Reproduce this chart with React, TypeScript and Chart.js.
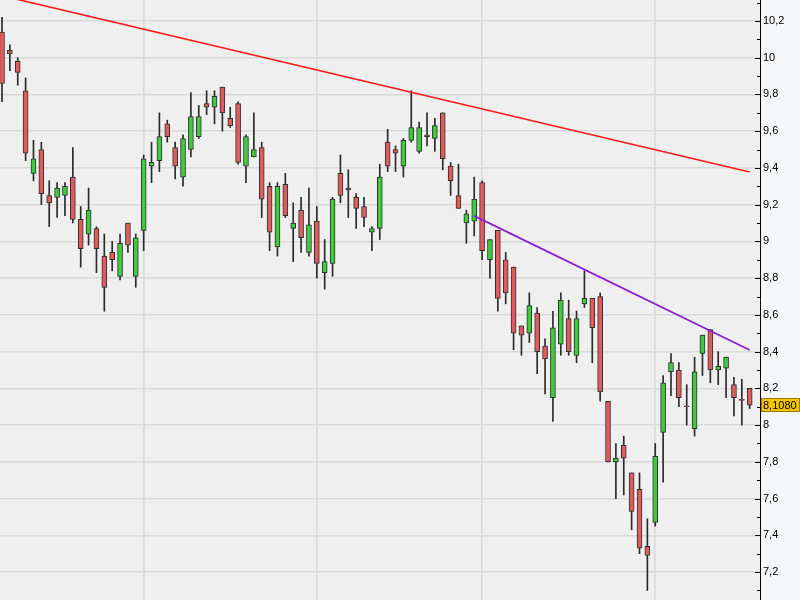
import React, { useEffect, useRef } from 'react';
import { Chart, registerables } from 'chart.js';

Chart.register(...registerables);

// Daily candles (96 sessions)
const opens = [
  10.14, 10.04, 9.98, 9.82, 9.37, 9.5, 9.25, 9.24, 9.25, 9.35,
  9.12, 9.04, 9.07, 8.92, 8.94, 8.81, 9.1, 8.81, 9.06, 9.41,
  9.44, 9.64, 9.51, 9.35, 9.5, 9.57, 9.75, 9.73, 9.84, 9.67,
  9.75, 9.41, 9.46, 9.51, 9.3, 8.97, 9.31, 9.07, 9.17, 8.94,
  9.11, 8.83, 8.88, 9.37, 9.29, 9.24, 9.19, 9.05, 9.07, 9.54,
  9.5, 9.41, 9.55, 9.49, 9.58, 9.56, 9.7, 9.41, 9.25, 9.1,
  9.11, 9.32, 8.9, 9.06, 8.9, 8.86, 8.54, 8.5, 8.61, 8.43,
  8.15, 8.44, 8.58, 8.38, 8.66, 8.69, 8.7, 8.13, 7.8, 7.89,
  7.74, 7.65, 7.34, 7.47, 7.96, 8.29, 8.3, 8.105, 7.98, 8.39,
  8.52, 8.3, 8.31, 8.22, 8.14, 8.2,
];
const highs = [
  10.22, 10.07, 10.0, 9.89, 9.55, 9.54, 9.33, 9.32, 9.32, 9.51,
  9.19, 9.29, 9.08, 9.04, 9.0, 9.04, 9.1, 9.04, 9.47, 9.54,
  9.7, 9.66, 9.54, 9.58, 9.81, 9.74, 9.82, 9.82, 9.84, 9.73,
  9.76, 9.58, 9.7, 9.54, 9.32, 9.32, 9.37, 9.21, 9.24, 9.29,
  9.19, 9.01, 9.24, 9.47, 9.39, 9.26, 9.24, 9.08, 9.42, 9.61,
  9.52, 9.56, 9.82, 9.65, 9.7, 9.67, 9.7, 9.43, 9.42, 9.17,
  9.35, 9.33, 9.01, 9.06, 8.94, 8.86, 8.54, 8.72, 8.64, 8.47,
  8.62, 8.72, 8.68, 8.62, 8.84, 8.69, 8.72, 8.13, 7.9, 7.94,
  7.74, 7.74, 7.49, 7.9, 8.27, 8.39, 8.34, 8.22, 8.37, 8.49,
  8.52, 8.4, 8.37, 8.26, 8.25, 8.2,
];
const lows = [
  9.76, 9.93, 9.85, 9.44, 9.33, 9.2, 9.08, 9.13, 9.14, 9.1,
  8.86, 8.98, 8.83, 8.62, 8.84, 8.79, 8.94, 8.75, 8.95, 9.32,
  9.38, 9.54, 9.34, 9.3, 9.46, 9.56, 9.69, 9.64, 9.6, 9.62,
  9.42, 9.32, 9.46, 9.13, 8.95, 8.92, 9.13, 8.89, 8.94, 8.92,
  8.8, 8.74, 8.81, 9.21, 9.13, 9.07, 9.08, 8.95, 9.01, 9.38,
  9.38, 9.35, 9.54, 9.48, 9.52, 9.49, 9.39, 9.25, 9.18, 8.99,
  9.03, 8.9, 8.8, 8.62, 8.66, 8.41, 8.38, 8.45, 8.28, 8.17,
  8.02, 8.38, 8.38, 8.34, 8.64, 8.34, 8.13, 7.8, 7.6, 7.62,
  7.43, 7.3, 7.1, 7.45, 7.69, 8.16, 8.1, 8.0, 7.94, 8.27,
  8.23, 8.22, 8.15, 8.05, 8.0, 8.09,
];
const closes = [
  9.86, 10.02, 9.92, 9.48, 9.45, 9.26, 9.21, 9.29, 9.3, 9.12,
  8.96, 9.17, 8.96, 8.75, 8.9, 8.99, 8.98, 9.02, 9.45, 9.43,
  9.57, 9.57, 9.41, 9.56, 9.68, 9.68, 9.73, 9.79, 9.7, 9.63,
  9.43, 9.57, 9.5, 9.23, 9.05, 9.3, 9.14, 9.1, 9.02, 9.09,
  8.88, 8.89, 9.23, 9.25, 9.28, 9.18, 9.13, 9.07, 9.35, 9.41,
  9.48, 9.55, 9.62, 9.62, 9.57, 9.63, 9.45, 9.33, 9.18, 9.15,
  9.23, 8.95, 9.01, 8.69, 8.72, 8.5, 8.49, 8.65, 8.4, 8.36,
  8.53, 8.68, 8.4, 8.58, 8.69, 8.53, 8.18, 7.8, 7.82, 7.82,
  7.53, 7.33, 7.29, 7.83, 8.23, 8.34, 8.15, 8.1, 8.29, 8.49,
  8.3, 8.32, 8.37, 8.15, 8.135, 8.108,
];

// Month separators (candle index)
const monthGridIdx = [18, 40, 61, 83];

// Trend lines (candle index, price)
const resistanceLine = [
  { x: 0, y: 10.337 },
  { x: 95, y: 9.378 },
];
const downTrendLine = [
  { x: 60, y: 9.139 },
  { x: 95, y: 8.409 },
];

// Price axis
const yMajorTicks = [7.2, 7.4, 7.6, 7.8, 8, 8.2, 8.4, 8.6, 8.8, 9, 9.2, 9.4, 9.6, 9.8, 10, 10.2];
const lastPrice = 8.108;

const Y_MIN = 7.048;
const Y_MAX = 10.314;
const X_MIN = -0.254;
const X_MAX = 96.31;

const isMajor = (v: number) => Math.abs(v * 5 - Math.round(v * 5)) < 1e-6;
const fmt = (v: number) => String(Math.round(v * 10) / 10).replace('.', ',');

const allYTicks: number[] = [];
for (let k = 71; k <= 103; k++) allYTicks.push(k / 10);

const decorPlugin = {
  id: 'decor',
  beforeDraw(chart: any) {
    const { ctx, chartArea: a } = chart;
    ctx.save();
    ctx.fillStyle = '#efefef';
    ctx.fillRect(a.left, a.top, a.right - a.left, a.bottom - a.top);
    ctx.restore();
  },
  afterDraw(chart: any) {
    const { ctx, chartArea: a } = chart;
    const ys = chart.scales.y;
    ctx.save();
    ctx.strokeStyle = '#000';
    ctx.lineWidth = 1;
    for (const v of allYTicks) {
      const py = Math.round(ys.getPixelForValue(v)) + 0.5;
      const len = isMajor(v) ? 5 : 3;
      ctx.beginPath();
      ctx.moveTo(a.right - len, py);
      ctx.lineTo(a.right, py);
      ctx.stroke();
    }
    // last price box
    const py = Math.round(ys.getPixelForValue(lastPrice));
    const bx = a.right + 1;
    const bw = chart.width - bx;
    ctx.fillStyle = '#f5c400';
    ctx.fillRect(bx, py - 7, bw, 14);
    ctx.strokeStyle = '#9a7a00';
    ctx.strokeRect(bx + 0.5, py - 6.5, bw - 1, 13);
    ctx.fillStyle = '#000';
    ctx.font = '11px "Liberation Sans", Arial, sans-serif';
    ctx.textBaseline = 'middle';
    ctx.textAlign = 'left';
    ctx.fillText(lastPrice.toFixed(4).replace('.', ','), a.right + 3, py + 0.5);
    ctx.restore();
  },
};

export default function App() {
  const canvasRef = useRef<HTMLCanvasElement | null>(null);

  useEffect(() => {
    if (!canvasRef.current) return;
    const wicks = opens.map((_, i) => ({ x: i, y: [lows[i], highs[i]] }));
    const bodies = opens.map((o, i) => ({ x: i, y: [o, closes[i]] }));
    const bodyColors = opens.map((o, i) => (closes[i] >= o ? '#3ccc3c' : '#e05c5c'));

    const chart = new Chart(canvasRef.current, {
      type: 'bar',
      data: {
        datasets: [
          {
            type: 'bar',
            data: wicks as any,
            backgroundColor: '#2a2a2a',
            borderWidth: 0,
            barThickness: 1,
            grouped: false,
            order: 3,
          } as any,
          {
            type: 'bar',
            data: bodies as any,
            backgroundColor: bodyColors,
            borderColor: '#2f2f2f',
            borderWidth: 1,
            borderSkipped: false,
            barThickness: 5,
            grouped: false,
            order: 2,
          } as any,
          {
            type: 'line',
            data: resistanceLine as any,
            borderColor: '#ff1a1a',
            borderWidth: 1.6,
            pointRadius: 0,
            order: 1,
          } as any,
          {
            type: 'line',
            data: downTrendLine as any,
            borderColor: '#8e1ed2',
            borderWidth: 1.8,
            pointRadius: 0,
            order: 1,
          } as any,
        ],
      },
      options: {
        animation: false,
        responsive: false,
        layout: { padding: 0 },
        plugins: {
          legend: { display: false },
          tooltip: { enabled: false },
        },
        scales: {
          x: {
            type: 'linear',
            min: X_MIN,
            max: X_MAX,
            offset: false,
            afterBuildTicks: (axis: any) => {
              axis.ticks = monthGridIdx.map((v) => ({ value: v }));
            },
            ticks: { display: false },
            grid: { color: '#d9d9d9', lineWidth: 1.6, drawTicks: false, offset: false },
            border: { display: false },
          },
          y: {
            type: 'linear',
            position: 'right',
            min: Y_MIN,
            max: Y_MAX,
            afterBuildTicks: (axis: any) => {
              axis.ticks = allYTicks.map((v) => ({ value: v }));
            },
            afterFit: (axis: any) => {
              axis.width = 40;
              axis.paddingTop = 0;
              axis.paddingBottom = 0;
            },
            ticks: {
              autoSkip: false,
              padding: 3,
              color: '#000',
              font: { family: '"Liberation Sans", Arial, sans-serif', size: 11 },
              callback: (v: any) => {
                const n = Number(v);
                return yMajorTicks.some((m) => Math.abs(m - n) < 1e-6) ? fmt(n) : '';
              },
            },
            grid: {
              drawTicks: false,
              lineWidth: 1.6,
              color: (ctx: any) => (ctx.tick && isMajor(ctx.tick.value) ? '#d9d9d9' : 'rgba(0,0,0,0)'),
            },
            border: { display: true, color: '#000', width: 1 },
          },
        },
      } as any,
      plugins: [decorPlugin],
    });
    return () => chart.destroy();
  }, []);

  return (
    <div style={{ position: 'fixed', left: 0, top: 0, width: 800, height: 600, background: '#f6f7f9' }}>
      <canvas ref={canvasRef} width={800} height={600} style={{ display: 'block' }} />
    </div>
  );
}
